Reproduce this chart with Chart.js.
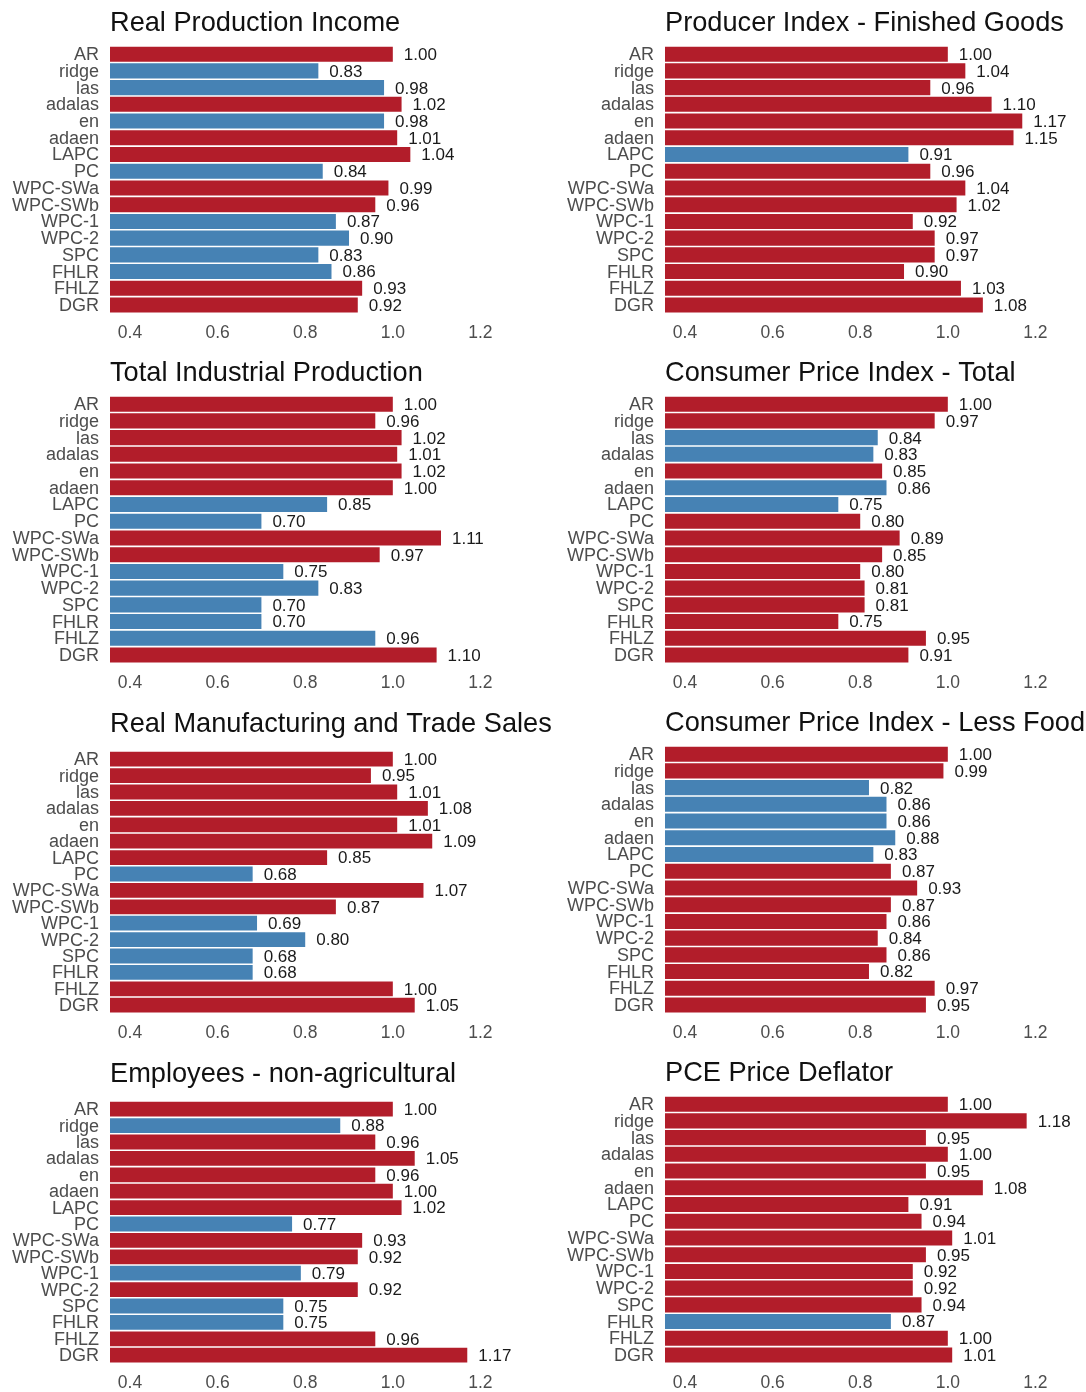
<!DOCTYPE html>
<html>
<head>
<meta charset="utf-8">
<script src="https://cdn.jsdelivr.net/npm/chart.js@4"></script>
<style>
  html, body { margin: 0; padding: 0; background: #fff; overflow: hidden; }
  #grid { position: relative; width: 1086px; height: 1392px; overflow: hidden; }
  #grid canvas { position: absolute; }
</style>
</head>
<body>
<div id="grid"></div>
<script>
// Models compared in every panel (top to bottom)
const categories = ['AR', 'ridge', 'las', 'adalas', 'en', 'adaen', 'LAPC', 'PC',
  'WPC-SWa', 'WPC-SWb', 'WPC-1', 'WPC-2', 'SPC', 'FHLR', 'FHLZ', 'DGR'];
const xTicks = [0.4, 0.6, 0.8, 1.0, 1.2];

// Relative error per series; "marked" = 1 flags the highlighted group
const titleIncome = 'Real Production Income';
const valuesIncome = [1.00, 0.83, 0.98, 1.02, 0.98, 1.01, 1.04, 0.84, 0.99, 0.96, 0.87, 0.90, 0.83, 0.86, 0.93, 0.92];
const markedIncome = [0, 1, 1, 0, 1, 0, 0, 1, 0, 0, 1, 1, 1, 1, 0, 0];

const titlePPI = 'Producer Index - Finished Goods';
const valuesPPI = [1.00, 1.04, 0.96, 1.10, 1.17, 1.15, 0.91, 0.96, 1.04, 1.02, 0.92, 0.97, 0.97, 0.90, 1.03, 1.08];
const markedPPI = [0, 0, 0, 0, 0, 0, 1, 0, 0, 0, 0, 0, 0, 0, 0, 0];

const titleIP = 'Total Industrial Production';
const valuesIP = [1.00, 0.96, 1.02, 1.01, 1.02, 1.00, 0.85, 0.70, 1.11, 0.97, 0.75, 0.83, 0.70, 0.70, 0.96, 1.10];
const markedIP = [0, 0, 0, 0, 0, 0, 1, 1, 0, 0, 1, 1, 1, 1, 1, 0];

const titleCPI = 'Consumer Price Index - Total';
const valuesCPI = [1.00, 0.97, 0.84, 0.83, 0.85, 0.86, 0.75, 0.80, 0.89, 0.85, 0.80, 0.81, 0.81, 0.75, 0.95, 0.91];
const markedCPI = [0, 0, 1, 1, 0, 1, 1, 0, 0, 0, 0, 0, 0, 0, 0, 0];

const titleSales = 'Real Manufacturing and Trade Sales';
const valuesSales = [1.00, 0.95, 1.01, 1.08, 1.01, 1.09, 0.85, 0.68, 1.07, 0.87, 0.69, 0.80, 0.68, 0.68, 1.00, 1.05];
const markedSales = [0, 0, 0, 0, 0, 0, 0, 1, 0, 0, 1, 1, 1, 1, 0, 0];

const titleCPIxF = 'Consumer Price Index - Less Food';
const valuesCPIxF = [1.00, 0.99, 0.82, 0.86, 0.86, 0.88, 0.83, 0.87, 0.93, 0.87, 0.86, 0.84, 0.86, 0.82, 0.97, 0.95];
const markedCPIxF = [0, 0, 1, 1, 1, 1, 1, 0, 0, 0, 0, 0, 0, 0, 0, 0];

const titleEmp = 'Employees - non-agricultural';
const valuesEmp = [1.00, 0.88, 0.96, 1.05, 0.96, 1.00, 1.02, 0.77, 0.93, 0.92, 0.79, 0.92, 0.75, 0.75, 0.96, 1.17];
const markedEmp = [0, 1, 0, 0, 0, 0, 0, 1, 0, 0, 1, 0, 1, 1, 0, 0];

const titlePCE = 'PCE Price Deflator';
const valuesPCE = [1.00, 1.18, 0.95, 1.00, 0.95, 1.08, 0.91, 0.94, 1.01, 0.95, 0.92, 0.92, 0.94, 0.87, 1.00, 1.01];
const markedPCE = [0, 0, 0, 0, 0, 0, 0, 0, 0, 0, 0, 0, 0, 1, 0, 0];

// ---- layout & style ----
const FONT = '"Liberation Sans", Arial, Helvetica, sans-serif';
const RED = '#B21D2A';
const BLUE = '#4682B4';
const PANEL_H = 350;
const AXIS_W = 110;          // room for category labels
const PLOT_W = 420;          // width of the bar area
const PX_PER_UNIT = 438;
const X_MIN = 0.3543;
const X_MAX = X_MIN + PLOT_W / PX_PER_UNIT;
const COLS = [{ left: 0, width: 555 }, { left: 555, width: 531 }];

const panels = [
  [titleIncome, valuesIncome, markedIncome],
  [titlePPI, valuesPPI, markedPPI],
  [titleIP, valuesIP, markedIP],
  [titleCPI, valuesCPI, markedCPI],
  [titleSales, valuesSales, markedSales],
  [titleCPIxF, valuesCPIxF, markedCPIxF],
  [titleEmp, valuesEmp, markedEmp],
  [titlePCE, valuesPCE, markedPCE]
];

// Panel heading, left-aligned with the bar area
const panelTitle = {
  id: 'panelTitle',
  afterDraw(chart, args, opts) {
    const ctx = chart.ctx;
    ctx.save();
    ctx.font = `${opts.size}px ${FONT}`;
    ctx.fillStyle = opts.color;
    ctx.textAlign = 'left';
    ctx.textBaseline = 'alphabetic';
    ctx.fillText(opts.text, chart.chartArea.left, opts.baseline);
    ctx.restore();
  }
};

// Value printed just past the end of each bar
const valueLabels = {
  id: 'valueLabels',
  afterDatasetsDraw(chart, args, opts) {
    const ctx = chart.ctx;
    const meta = chart.getDatasetMeta(0);
    const data = chart.data.datasets[0].data;
    ctx.save();
    ctx.font = `${opts.size}px ${FONT}`;
    ctx.fillStyle = opts.color;
    ctx.textAlign = 'left';
    ctx.textBaseline = 'middle';
    meta.data.forEach((bar, i) => {
      ctx.fillText(data[i].toFixed(2), bar.x + opts.gap, bar.y + 1.2);
    });
    ctx.restore();
  }
};

const grid = document.getElementById('grid');

panels.forEach(([title, values, marked], idx) => {
  const col = COLS[idx % 2];
  const row = Math.floor(idx / 2);
  const canvas = document.createElement('canvas');
  canvas.width = col.width;
  canvas.height = PANEL_H;
  canvas.style.left = col.left + 'px';
  canvas.style.top = (row * PANEL_H) + 'px';
  canvas.style.width = col.width + 'px';
  canvas.style.height = PANEL_H + 'px';
  grid.appendChild(canvas);

  // headings with descenders take a little more vertical room
  const tall = /[gjpqy]/.test(title);
  const topPad = tall ? 51.0 : 45.8;

  new Chart(canvas, {
    type: 'bar',
    data: {
      labels: categories,
      datasets: [{
        data: values,
        backgroundColor: marked.map(m => (m ? BLUE : RED)),
        borderWidth: 0,
        categoryPercentage: 1.0,
        barPercentage: 0.9
      }]
    },
    plugins: [panelTitle, valueLabels],
    options: {
      indexAxis: 'y',
      responsive: false,
      animation: false,
      devicePixelRatio: 1,
      layout: {
        padding: { top: topPad, right: col.width - AXIS_W - PLOT_W, bottom: 0, left: 0 }
      },
      plugins: {
        legend: { display: false },
        tooltip: { enabled: false },
        title: { display: false },
        panelTitle: { text: title, size: 27.2, color: '#111111', baseline: tall ? 31.8 : 30.5 },
        valueLabels: { size: 17, color: '#1A1A1A', gap: 11 }
      },
      scales: {
        x: {
          type: 'linear',
          min: X_MIN,
          max: X_MAX,
          grid: { display: false, drawTicks: false },
          border: { display: false },
          afterBuildTicks(scale) { scale.ticks = xTicks.map(v => ({ value: v })); },
          afterFit(scale) { scale.height = 36.6; },
          ticks: {
            padding: 9.5,
            color: '#4D4D4D',
            font: { family: FONT, size: 17.5 },
            maxRotation: 0,
            autoSkip: false,
            callback: v => Number(v).toFixed(1)
          }
        },
        y: {
          type: 'category',
          grid: { display: false, drawTicks: false },
          border: { display: false },
          afterFit(scale) { scale.width = AXIS_W; },
          ticks: {
            padding: 11,
            labelOffset: 1,
            color: '#4D4D4D',
            font: { family: FONT, size: 18 },
            autoSkip: false
          }
        }
      }
    }
  });
});
</script>
</body>
</html>
